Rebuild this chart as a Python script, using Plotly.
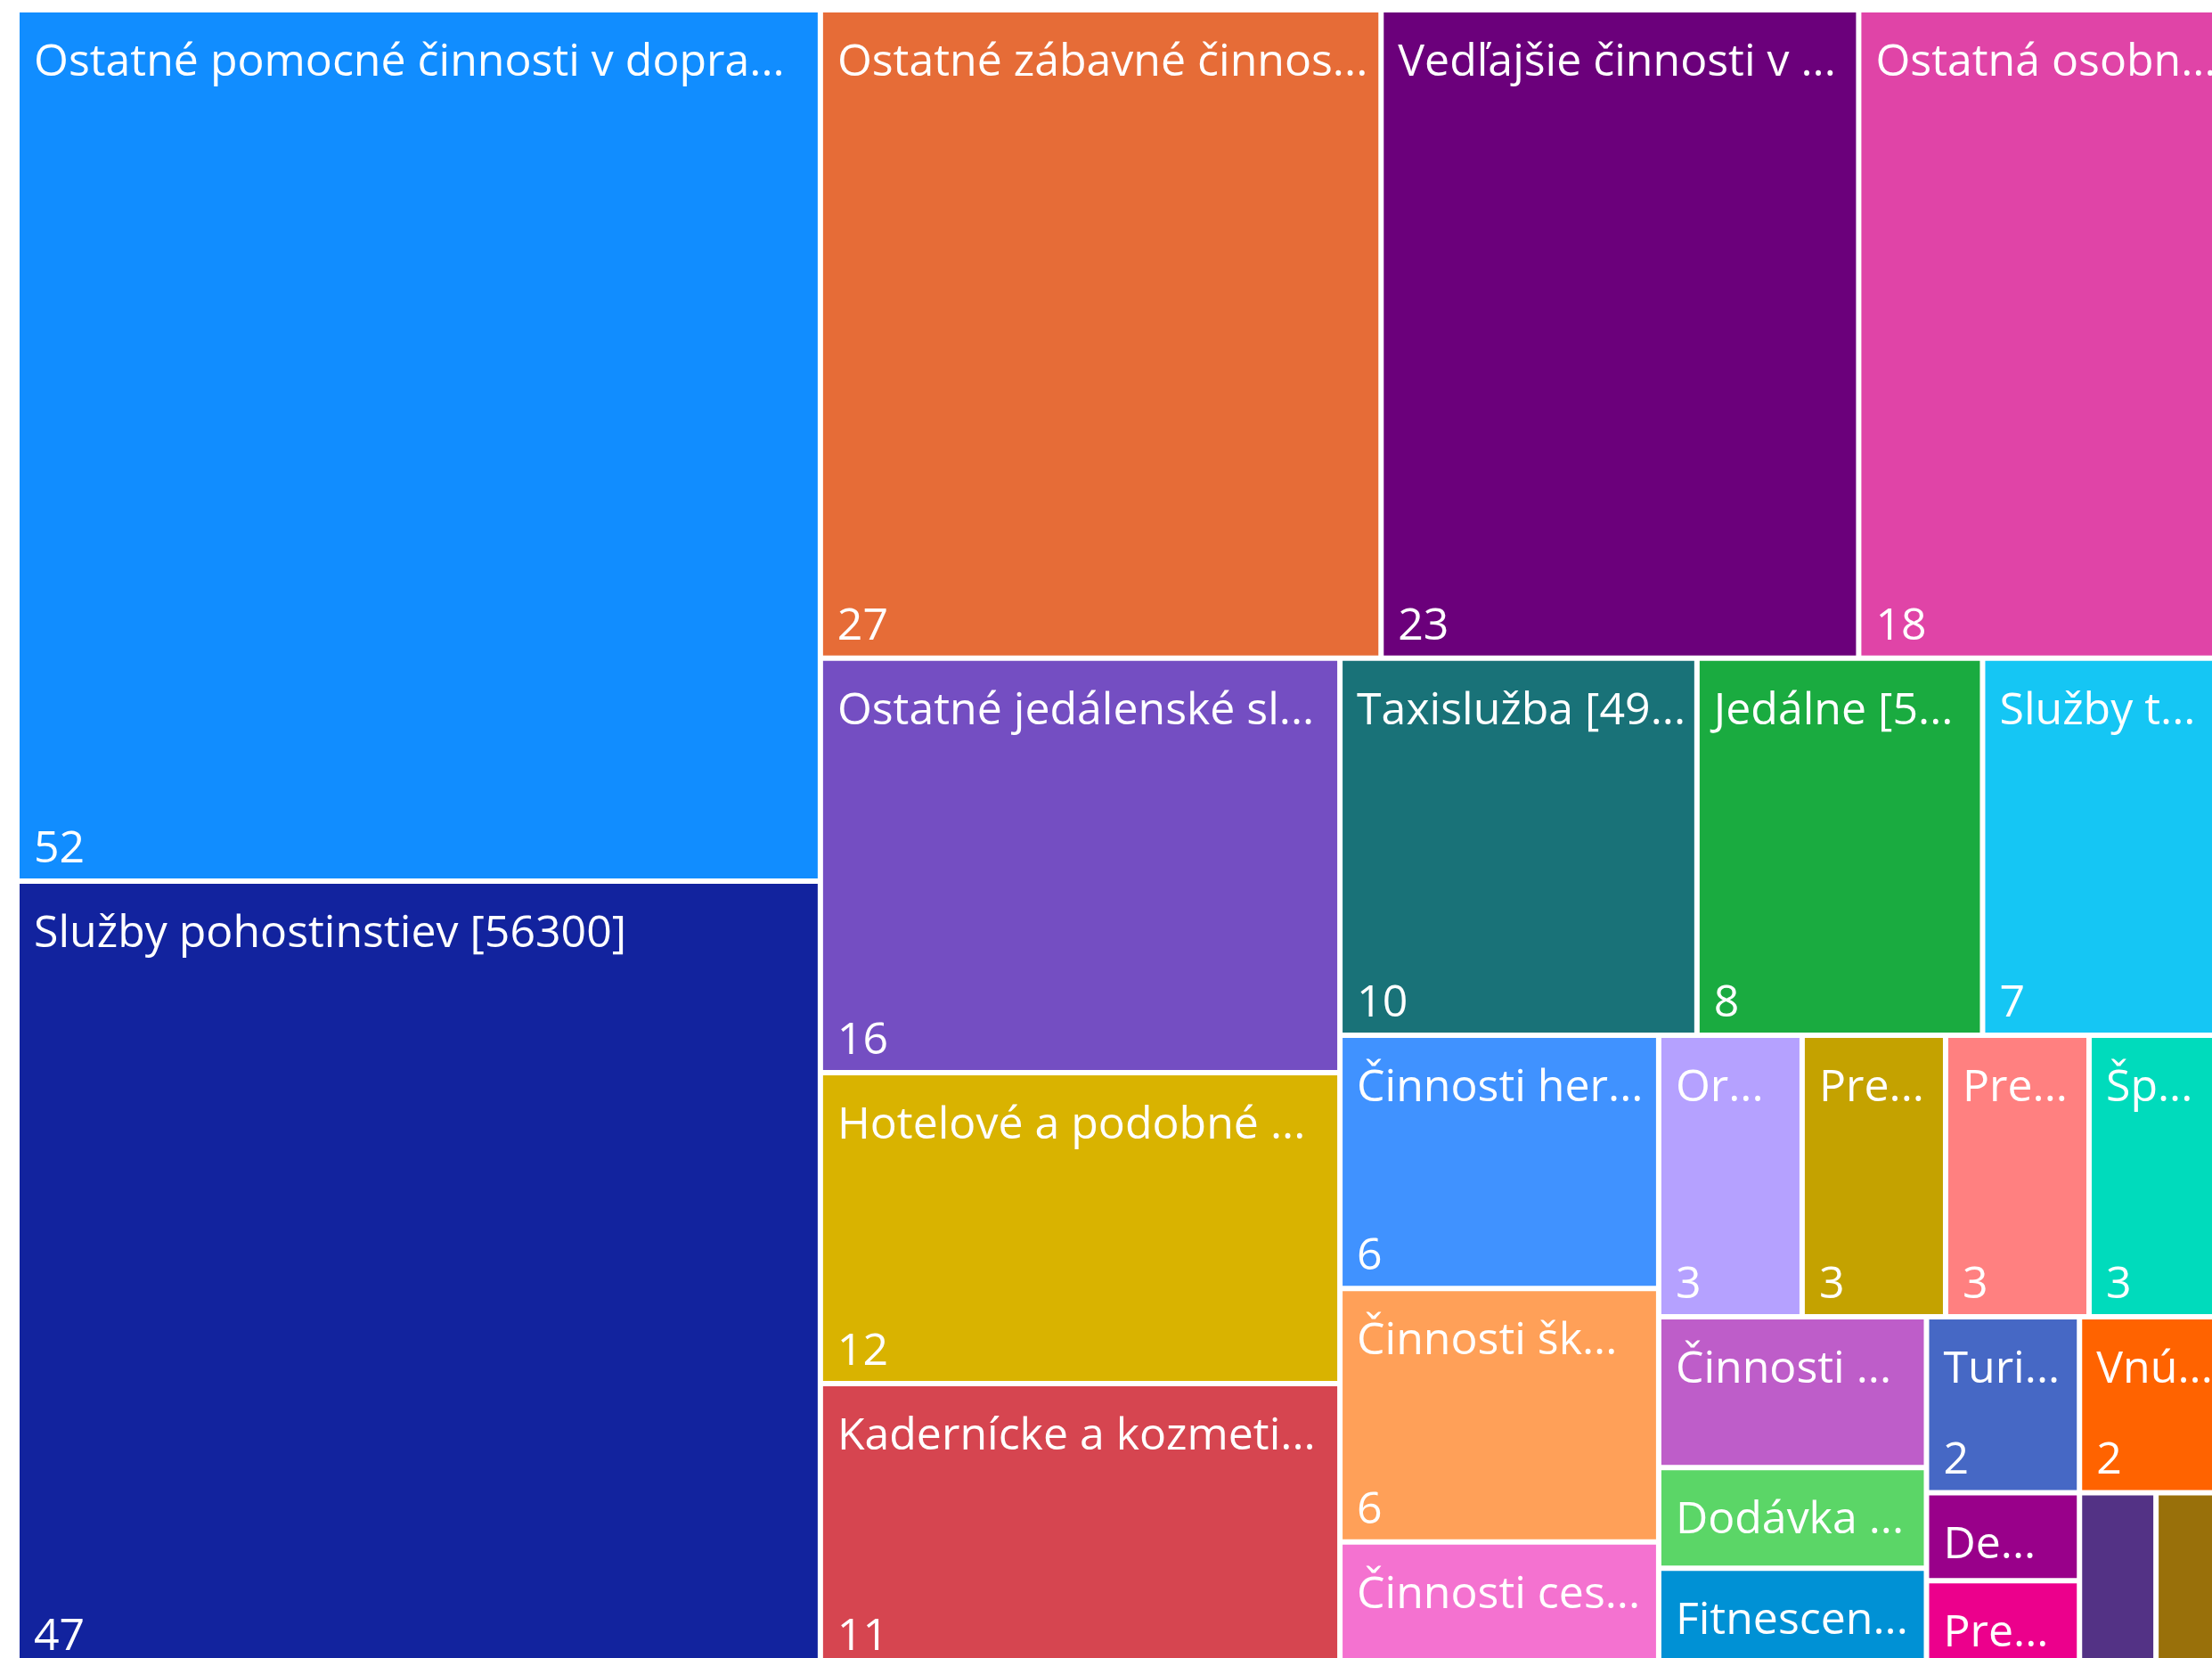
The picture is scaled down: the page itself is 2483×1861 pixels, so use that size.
import plotly.graph_objects as go

# ---- data ----
labels = [
    "Ostatné pomocné činnosti v dopra...",
    "Služby pohostinstiev [56300]",
    "Ostatné zábavné činnos...",
    "Vedľajšie činnosti v ...",
    "Ostatná osobn...",
    "Ostatné jedálenské sl...",
    "Hotelové a podobné ...",
    "Kadernícke a kozmeti...",
    "Taxislužba [49...",
    "Jedálne [5...",
    "Služby t...",
    "Činnosti her...",
    "Činnosti šk...",
    "Činnosti ces...",
    "Or...",
    "Pre...",
    "Pre...",
    "Šp...",
    "Činnosti ...",
    "Dodávka ...",
    "Fitnescen...",
    "Turi...",
    "Vnú...",
    "De...",
    "Pre...",
    "",
    "",
]
values = [52, 47, 27, 23, 18, 16, 12, 11, 10, 8, 7, 6, 6, 3, 3, 3, 3, 3, 3, 2, 2, 2, 2, 1, 1, 1, 1]
colors = [
    "#118DFF", "#12239E", "#E66C37", "#6B007B", "#E044A7", "#744EC2", "#D9B300",
    "#D64550", "#197278", "#1AAB40", "#15C6F4", "#4092FF", "#FFA058", "#F472D0",
    "#B5A1FF", "#C4A200", "#FF8080", "#00DBBC", "#BE5DC9", "#5BD667", "#0091D5",
    "#4668C5", "#FF6300", "#99008A", "#EC008C", "#533285", "#99700A",
]
# whether the value label is visible in the reference cell
show_value = [1, 1, 1, 1, 1, 1, 1, 1, 1, 1, 1, 1, 1, 0, 1, 1, 1, 1, 0, 0, 0, 1, 1, 0, 0, 0, 0]

ids = [f"c{i}" for i in range(len(labels))]
parents = [""] * len(labels)

FONT = "Open Sans"
FS = 50
LEAD = "<span style='baseline-shift:15px'>\u00a0</span>"

common = dict(
    ids=ids,
    labels=labels,
    parents=parents,
    values=values,
    sort=True,
    tiling=dict(packing="squarify", squarifyratio=1.618034, pad=6),
    pathbar=dict(visible=False),
    hoverinfo="label+value",
    domain=dict(x=[0, 1], y=[0, 1]),
)

label_trace = go.Treemap(
    **common,
    marker=dict(colors=colors, line=dict(width=0), pad=dict(t=0, l=0, r=0, b=0)),
    texttemplate=[LEAD + "%{label}" if l else "" for l in labels],
    textposition="top left",
    textfont=dict(family=FONT, size=FS, color="white", weight=400),
)

value_trace = go.Treemap(
    **common,
    marker=dict(colors=["rgba(0,0,0,0)"] * len(labels), line=dict(width=0),
                pad=dict(t=0, l=0, r=0, b=0)),
    texttemplate=["\u00a0%{value}" if s else "" for s in show_value],
    textposition="bottom left",
    textfont=dict(family=FONT, size=FS, color="white", weight=400),
)

fig = go.Figure([label_trace, value_trace])
fig.update_layout(
    width=2503,
    height=1870,
    margin=dict(l=22, t=14, r=0, b=0, pad=0),
    paper_bgcolor="white",
    plot_bgcolor="white",
    showlegend=False,
    uniformtext=dict(minsize=FS, mode="show"),
    font=dict(family=FONT),
)

fig.write_html(
    "out.html",
    config={"displayModeBar": False},
    post_script=(
        "document.body.style.margin='0';"
        "document.body.style.overflow='hidden';"
        "document.documentElement.style.overflow='hidden';"
    ),
)
